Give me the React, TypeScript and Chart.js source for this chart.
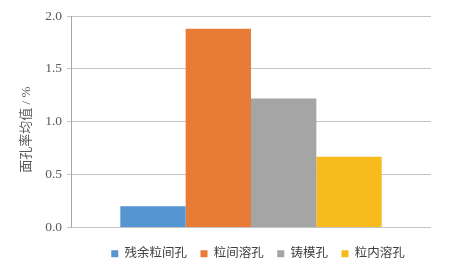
import React, { useEffect, useRef } from "react";
import { Chart, registerables } from "chart.js";

Chart.register(...registerables);

const categories = [""];
const seriesNames = ["残余粒间孔", "粒间溶孔", "铸模孔", "粒内溶孔"];
const seriesValues = [0.2, 1.88, 1.22, 0.67];
const seriesColors = ["#5596d2", "#e87b35", "#a5a5a5", "#f7bb1e"];
const yTitle = "面孔率均值 / %";
const yMin = 0;
const yMax = 2.0;
const yStep = 0.5;

const FONT = '"Liberation Serif", "Noto Sans CJK SC", serif';

const yTitlePlugin = {
  id: "yTitlePlugin",
  afterDraw(chart: any) {
    const { ctx, chartArea } = chart;
    ctx.save();
    ctx.fillStyle = "#595959";
    ctx.font = `13px ${FONT}`;
    ctx.textAlign = "center";
    ctx.textBaseline = "middle";
    ctx.translate(chartArea.left - 44, (chartArea.top + chartArea.bottom) / 2 + 8);
    ctx.rotate(-Math.PI / 2);
    ctx.fillText(yTitle, 0, 0);
    ctx.restore();
  },
};

const legendShiftPlugin = {
  id: "legendShiftPlugin",
  afterLayout(chart: any) {
    const lg = chart.legend;
    if (!lg) return;
    const dx = 42.5;
    const dy = 2;
    lg.left += dx;
    lg.right += dx;
    lg.top += dy;
    lg.bottom += dy;
  },
};

export default function App() {
  const ref = useRef<HTMLCanvasElement | null>(null);
  useEffect(() => {
    if (!ref.current) return;
    const chart = new Chart(ref.current, {
      type: "bar",
      data: {
        labels: categories,
        datasets: seriesNames.map((name, i) => ({
          label: name,
          data: [seriesValues[i]],
          backgroundColor: seriesColors[i],
          borderWidth: 0,
          barPercentage: 1,
          categoryPercentage: 0.726,
        })),
      },
      plugins: [yTitlePlugin, legendShiftPlugin],
      options: {
        animation: false,
        responsive: false,
        maintainAspectRatio: false,
        layout: { padding: { top: 16, right: 28, left: 0, bottom: 0 } },
        plugins: {
          tooltip: { enabled: false },
          legend: {
            position: "bottom",
            labels: {
              boxWidth: 7,
              boxHeight: 7,
              padding: 13.5,
              color: "#404040",
              font: { family: FONT, size: 12.5 },
            },
          },
        },
        scales: {
          x: {
            display: true,
            afterFit: (s: any) => {
              s.height = 4.5;
            },
            ticks: { display: false },
            grid: { display: false, drawTicks: false },
            border: { display: false },
          },
          y: {
            min: yMin,
            max: yMax,
            afterFit: (s: any) => {
              s.width = 71;
            },
            ticks: {
              stepSize: yStep,
              padding: 5,
              color: "#595959",
              font: { family: FONT, size: 13.5 },
              callback: (v: any) => Number(v).toFixed(1),
            },
            grid: {
              color: "#c4c4c4",
              lineWidth: 1,
              tickLength: 4,
              drawTicks: true,
            },
            border: { display: true, color: "#a6a6a6" },
          },
        },
      },
    });
    return () => chart.destroy();
  }, []);
  return (
    <div style={{ position: "fixed", left: 0, top: 0, width: 459, height: 268, background: "#fff" }}>
      <canvas ref={ref} width={459} height={268} style={{ width: 459, height: 268 }} />
    </div>
  );
}
